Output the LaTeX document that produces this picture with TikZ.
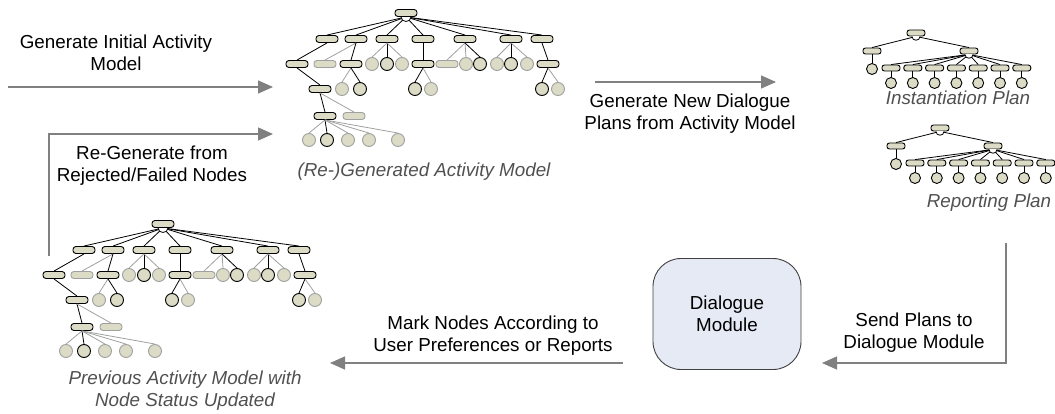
\documentclass[tikz,border=0pt]{standalone}
\usepackage{fontspec}
\setmainfont{Liberation Sans}
\usetikzlibrary{arrows.meta}

\definecolor{nodefill}{HTML}{DCDCC6}
\definecolor{offgrey}{HTML}{A0A0A0}
\definecolor{flowgrey}{HTML}{808080}
\definecolor{modfill}{HTML}{E6EAF4}
\definecolor{capgrey}{HTML}{505050}

% activity model tree, #1 = name prefix
\newcommand\activitymodel[1]{%
  \node[task] (#1-r) at (406,13) {};
  \foreach \n/\x in {a/327,b/356,c/387,d/423,e/465,f/511,g/542}
    {\node[task] (#1-\n) at (\x,39) {};
     \draw[link] (#1-r.south) -- (#1-\n.north);}
  \draw[link,fill=white] ([xshift=-5pt]#1-r.south) .. controls +(0,6) and +(0,6) .. ([xshift=5pt]#1-r.south);
  \foreach \n/\x/\s/\e/\p in {a1/297/task/link/a, b1/325/otask/olink/b, b2/351/task/link/b,
      c1/372/oleaf/olink/c, c2/387/leaf/link/c, c3/402/oleaf/olink/c, d1/423/task/link/d,
      e1/447/otask/olink/e, e2/466/oleaf/olink/e, e3/480/leaf/link/e,
      f1/497/oleaf/olink/f, f2/511/leaf/link/f, f3/527/oleaf/olink/f, g1/548/task/link/g}
    {\node[\s] (#1-\n) at (\x,64) {};
     \draw[\e] (#1-\p.south) -- (#1-\n.north);}
  \foreach \n/\x/\s/\e/\p in {a11/320/task/link/a1, b21/342/oleaf/olink/b2, b22/360/leaf/link/b2,
      d11/415/leaf/link/d1, d12/431/oleaf/olink/d1, g11/542/leaf/link/g1, g12/558/oleaf/olink/g1}
    {\node[\s] (#1-\n) at (\x,89) {};
     \draw[\e] (#1-\p.south) -- (#1-\n.north);}
  \foreach \n/\x/\s/\e in {a111/325/task/link, a112/354/otask/olink}
    {\node[\s] (#1-\n) at (\x,116) {};
     \draw[\e] (#1-a11.south) -- (#1-\n.north);}
  \foreach \n/\x/\s/\e in {p1/309/oleaf/olink, p2/327/leaf/link, p3/348/oleaf/olink,
      p4/369/oleaf/olink, p5/398/oleaf/olink}
    {\node[\s] (#1-\n) at (\x,140) {};
     \draw[\e] (#1-a111.south) -- (#1-\n.north);}
}

% dialogue plan tree, #1 = name prefix
\newcommand\dialogueplan[1]{%
  \node[stask] (#1-r) at (916,33) {};
  \node[stask] (#1-l) at (872,51) {};
  \node[stask] (#1-k) at (969,51) {};
  \node[sleaf] (#1-lc) at (872,69) {};
  \draw[link] (#1-r.south) -- (#1-l.north);
  \draw[link] (#1-r.south) -- (#1-k.north);
  \draw[link] (#1-l.south) -- (#1-lc.north);
  \foreach \i in {1,...,7}
    {\node[stask] (#1-s\i) at ({891+21.8*(\i-1)},68) {};
     \node[sleaf] (#1-c\i) at ({891+21.8*(\i-1)},83) {};
     \draw[link] (#1-k.south) -- (#1-s\i.north);
     \draw[link] (#1-s\i.south) -- (#1-c\i.north);}
  \draw[link,fill=white] ([xshift=-4pt]#1-r.south) .. controls +(0,5) and +(0,5) .. ([xshift=4pt]#1-r.south);
  \draw[link,fill=white] ([xshift=-4pt]#1-k.south) .. controls +(0,5) and +(0,5) .. ([xshift=4pt]#1-k.south);
}

\begin{document}
\begin{tikzpicture}[x=1pt,y=-1pt,
    font=\fontsize{18.8}{22}\selectfont,
    task/.style={draw=black,line width=0.9pt,fill=nodefill,rounded corners=3pt,minimum width=22pt,minimum height=7pt,inner sep=0pt},
    otask/.style={task,draw=offgrey},
    leaf/.style={circle,draw=black,line width=0.9pt,fill=nodefill,minimum size=13pt,inner sep=0pt},
    oleaf/.style={leaf,draw=offgrey},
    stask/.style={task,minimum width=18pt,minimum height=6pt,rounded corners=2.5pt},
    sleaf/.style={leaf,minimum size=11pt},
    link/.style={draw=black,line width=0.8pt},
    olink/.style={draw=offgrey,line width=0.8pt},
    flow/.style={draw=flowgrey,line width=1.3pt,-{Triangle[length=15pt,width=13pt]}},
    lbl/.style={align=center,inner sep=0pt},
    caption/.style={lbl,text=capgrey,font=\fontsize{18.8}{22}\selectfont\itshape},
    module/.style={draw=black!75,line width=0.9pt,fill=modfill,rounded corners=28pt,minimum width=148pt,minimum height=111pt,align=center}]
    \useasboundingbox (0,0) rectangle (1055,414);

    % trees
    \activitymodel{gen}
    \begin{scope}[shift={(-243,211)}]
    \activitymodel{prev}
    \end{scope}
    \dialogueplan{inst}
    \begin{scope}[shift={(24,95)}]
    \dialogueplan{rep}
    \end{scope}

    % captions
    \node[caption] (gen-cap) at (424,172) {(Re-)Generated Activity Model};
    \node[caption] (prev-cap) at (185,391) {Previous Activity Model with\\Node Status Updated};
    \node[caption] (inst-cap) at (958,98) {Instantiation Plan};
    \node[caption] (rep-cap) at (989,203) {Reporting Plan};

    \node[module] (dm) at (727,314) {Dialogue\\Module};

    % flows
    \coordinate (init-in) at (8,87);
    \coordinate (gen-in) at (273,87);
    \draw[flow] (init-in) -- (gen-in);
    \node[lbl] (init-lbl) at (116,53) {Generate Initial Activity\\Model};

    \coordinate (prev-out) at (49,256);
    \coordinate (gen-re) at (273,134);
    \draw[flow] (prev-out) |- (gen-re);
    \node[lbl] (regen-lbl) at (152,166) {Re-Generate from\\Rejected/Failed Nodes};

    \coordinate (gen-out) at (595,82);
    \coordinate (plans-in) at (776,82);
    \draw[flow] (gen-out) -- (plans-in);
    \node[lbl] (plans-lbl) at (690,114) {Generate New Dialogue\\Plans from Activity Model};

    \coordinate (plans-out) at (1006,243);
    \coordinate (dm-in) at (822,363);
    \draw[flow] (plans-out) |- (dm-in);
    \node[lbl] (send-lbl) at (914,333) {Send Plans to\\Dialogue Module};

    \coordinate (dm-out) at (623,363);
    \coordinate (prev-in) at (330,363);
    \draw[flow] (dm-out) -- (prev-in);
    \node[lbl] (mark-lbl) at (493,336) {Mark Nodes According to\\User Preferences or Reports};
\end{tikzpicture}
\end{document}
